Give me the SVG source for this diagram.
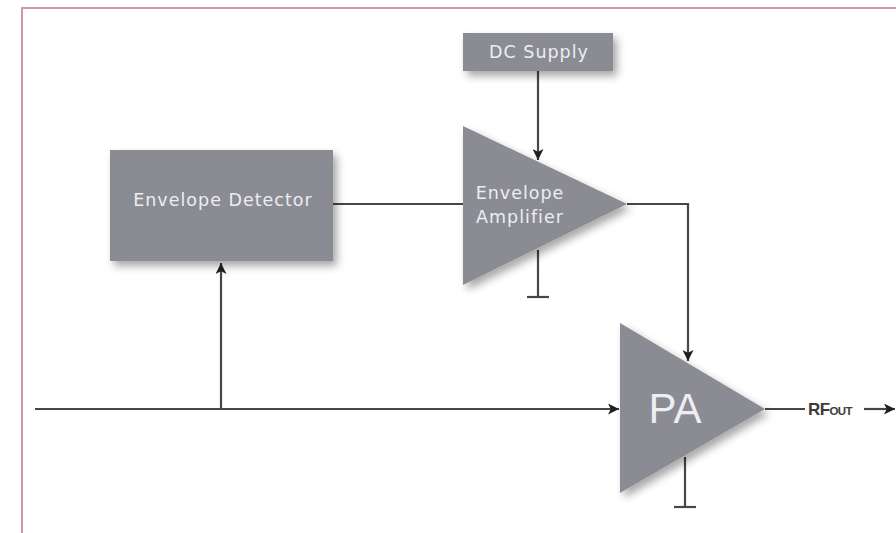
<svg xmlns="http://www.w3.org/2000/svg" width="896" height="533" viewBox="0 0 896 533">
  <style>
    .block { fill: #8a8b93; filter: url(#shadow); }
    .wire { fill: none; stroke: #4b4547; stroke-width: 2.2; }
    .label { fill: #eceef2; font-family: "DejaVu Sans", "Liberation Sans", sans-serif; text-anchor: middle; font-size: 17.5px; letter-spacing: 1px; }
    .rf { fill: #3f3a3c; font-family: "Liberation Sans", Arial, sans-serif; font-weight: bold; }
  </style>
  <defs>
    <filter id="shadow" x="-20%" y="-20%" width="150%" height="150%">
      <feGaussianBlur in="SourceAlpha" stdDeviation="4"/>
      <feOffset dx="4" dy="5" result="b"/>
      <feComponentTransfer><feFuncA type="linear" slope="0.35"/></feComponentTransfer>
      <feMerge><feMergeNode/><feMergeNode in="SourceGraphic"/></feMerge>
    </filter>
    <marker id="arrow" viewBox="0 0 10 10" refX="10" refY="5" markerWidth="12" markerHeight="11" orient="auto" markerUnits="userSpaceOnUse">
      <path d="M0,0 L10,5 L0,10 L2.5,5 z" fill="#231f20"/>
    </marker>
  </defs>

  <rect width="896" height="533" fill="#ffffff"/>
  <!-- frame -->
  <path d="M22,533 V8 H896" fill="none" stroke="#d394ae" stroke-width="2"/>

  <!-- connectors -->
  <g id="connectors">
    <line class="wire" x1="35" y1="409" x2="619" y2="409" marker-end="url(#arrow)"/>
    <line class="wire" x1="221" y1="409" x2="221" y2="263" marker-end="url(#arrow)"/>
    <line class="wire" x1="333" y1="204" x2="463" y2="204"/>
    <line class="wire" x1="538" y1="71" x2="538" y2="160" marker-end="url(#arrow)"/>
    <polyline class="wire" points="627,204 688,204 688,361" marker-end="url(#arrow)"/>
    <line class="wire" x1="538" y1="250" x2="538" y2="297"/>
    <line class="wire" x1="527" y1="297" x2="549" y2="297"/>
    <line class="wire" x1="685" y1="457" x2="685" y2="507"/>
    <line class="wire" x1="674" y1="507" x2="696" y2="507"/>
    <line class="wire" x1="765" y1="409" x2="805" y2="409"/>
    <line class="wire" x1="864" y1="409" x2="895" y2="409" marker-end="url(#arrow)"/>
    <text class="rf" x="808" y="415" font-size="17" letter-spacing="-0.6">RF<tspan font-size="11.5">OUT</tspan></text>
  </g>

  <g id="envelope-detector">
    <rect class="block" x="110" y="150" width="223" height="111"/>
    <text class="label" x="223" y="206">Envelope Detector</text>
  </g>

  <g id="dc-supply">
    <rect class="block" x="463" y="33" width="150" height="38"/>
    <text class="label" x="539" y="58">DC Supply</text>
  </g>

  <g id="envelope-amplifier">
    <polygon class="block" points="463,126 627,204 463,285"/>
    <text class="label" x="520" y="199">Envelope</text>
    <text class="label" x="520" y="223">Amplifier</text>
  </g>

  <g id="pa">
    <polygon class="block" points="620,323 765,409 620,493"/>
    <text class="label" x="675" y="423" style="font-family:'Liberation Sans',Arial,sans-serif;font-size:42px;letter-spacing:0">PA</text>
  </g>
</svg>
